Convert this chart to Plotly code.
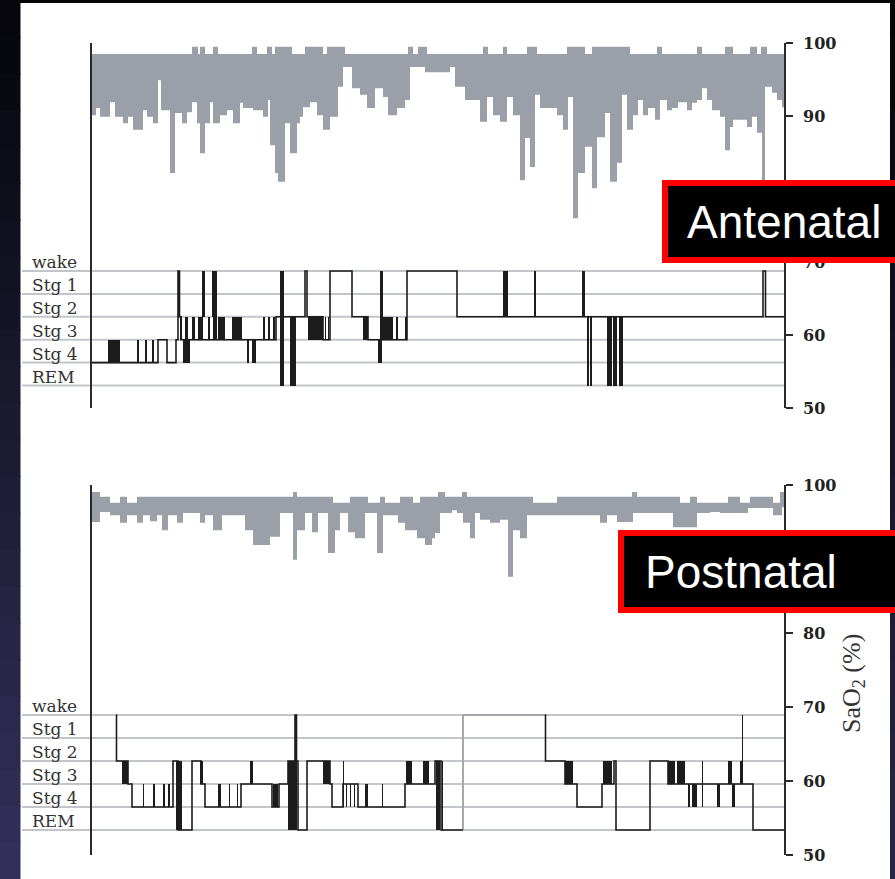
import plotly.graph_objects as go

W, H = 895, 879

# ---------------- data ----------------
stages = ["wake", "Stg 1", "Stg 2", "Stg 3", "Stg 4", "REM"]
stage_levels = [0, 1, 2, 3, 4, 5]
# tick labels visible in the slide (the others sit behind the label boxes)
top_ticks = [50, 60, 70, 90, 100]
bot_ticks = [50, 60, 70, 80, 100]
panel_labels = ["Antenatal", "Postnatal"]
sao2_title = "SaO<sub>2</sub> (%)"

# time in 30-s epochs from start of recording
# --- Antenatal SaO2 (upper and lower envelope, step data) ---
top_up_t = [0, 100, 106, 108, 113, 121, 126, 160, 165, 175, 180, 183, 200, 213, 231, 235, 253, 316, 321, 326, 335,
            391, 396, 411, 415, 435, 445, 475, 493, 500, 538, 565, 570, 605, 610, 633, 641, 658, 665, 669, 675, 695]
top_up_v = [98.5, 99.5, 98.5, 99.5, 98.5, 99.5, 98.5, 99.5, 98.5, 99.5, 98.5, 99.5, 98.5, 99.5, 98.5, 99.5, 98.5,
            99.5, 98.5, 99.5, 98.5, 99.5, 98.5, 99.5, 98.5, 99.5, 98.5, 99.5, 98.5, 99.5, 98.5, 99.5, 98.5, 99.5,
            98.5, 99.5, 98.5, 99.5, 98.5, 99.5, 98.5, 98.5]
top_low_t = [0, 4, 8, 18, 23, 31, 36, 41, 51, 55, 61, 66, 69, 78, 83, 90, 95, 100, 105, 108, 113, 118, 121, 128, 135,
             141, 148, 151, 161, 171, 176, 178, 183, 186, 193, 198, 205, 208, 211, 218, 225, 231, 238, 246, 251, 260,
             268, 275, 283, 291, 296, 305, 313, 318, 333, 358, 363, 373, 388, 395, 401, 408, 415, 421, 428, 433, 438,
             443, 448, 465, 471, 476, 481, 486, 493, 500, 505, 513, 518, 525, 530, 535, 541, 546, 551, 556, 563, 568,
             575, 580, 586, 595, 600, 605, 610, 615, 620, 628, 633, 638, 641, 655, 660, 665, 670, 673, 680, 685, 690,
             695]
top_low_v = [90.1, 91.1, 89.9, 91.9, 89.9, 89.0, 89.9, 88.1, 90.8, 89.9, 89.0, 94.9, 90.8, 82.2, 90.4, 89.0, 90.5,
             91.9, 89.0, 84.9, 89.0, 91.9, 89.0, 90.1, 90.8, 89.0, 91.8, 91.1, 90.8, 89.9, 92.2, 86.0, 82.2, 81.0,
             89.0, 84.9, 89.0, 89.9, 91.2, 91.9, 90.1, 88.1, 89.9, 94.0, 96.7, 93.8, 92.9, 91.1, 93.8, 92.6, 90.1,
             91.1, 92.2, 96.7, 96.0, 96.7, 94.0, 92.2, 89.2, 92.6, 90.1, 89.2, 92.6, 90.1, 81.2, 87.0, 83.0, 92.9,
             91.1, 90.1, 88.1, 92.6, 76.0, 82.2, 85.8, 80.1, 87.1, 90.4, 81.0, 83.6, 92.9, 88.1, 90.1, 92.2, 90.1,
             91.1, 89.5, 92.2, 90.8, 91.1, 91.9, 90.8, 91.8, 92.2, 93.8, 92.2, 90.8, 89.9, 85.3, 88.5, 89.5, 88.5,
             89.9, 87.7, 81.2, 94.0, 93.2, 92.2, 91.2, 91.2]

# --- Antenatal hypnogram (0 = wake ... 5 = REM) ---
top_hyp_t = [0, 66, 75, 84, 86, 87.5, 89, 184, 213, 215, 231, 238, 260, 276, 315, 365, 671, 673.5, 692]
top_hyp_s = [4, 3, 4, 3, 0, 2, 3, 2, 0, 2, 3, 0, 2, 3, 0, 2, 0, 2, 2]
# rapid stage alternations (dense black blocks)
top_blk_t0 = [16, 45, 53, 60, 88, 91, 93, 100, 106, 110, 116, 120, 121, 126, 140, 155, 160, 171, 176, 181,
              188, 198, 216, 233, 236, 271, 286, 288, 291, 304, 313, 411, 442.5, 490, 495, 498, 515, 521, 527]
top_blk_t1 = [28, 47, 55, 62, 90, 98, 96, 103, 111, 113, 118, 125, 125, 133, 150, 157, 164, 173, 178, 183,
              192, 204, 231, 234, 237, 276, 290, 291, 301, 306, 315, 416, 444, 493, 496.5, 499.5, 520, 525, 531]
top_blk_hi = [3, 3, 3, 3, 2, 3, 2, 2, 2, 0, 2, 0, 2, 2, 2, 3, 3, 2, 2, 2,
              0, 2, 2, 2, 2, 2, 3, 0, 2, 2, 2, 0, 0, 0, 2, 2, 2, 2, 2]
top_blk_lo = [4, 4, 4, 4, 3, 4, 3, 3, 3, 2, 3, 2, 3, 3, 3, 4, 4, 3, 3, 3,
              5, 5, 3, 3, 3, 3, 4, 3, 3, 3, 3, 2, 2, 2, 5, 5, 5, 5, 5]

# --- Postnatal SaO2 ---
bot_up_t = [0, 8, 18, 28, 35, 45, 201, 205, 241, 258, 276, 288, 293, 308, 321, 328, 346, 353, 370, 375, 441, 465,
            540, 545, 588, 598, 605, 636, 648, 658, 681, 688, 695]
bot_up_v = [99.05, 98.4, 97.6, 98.4, 97.6, 98.4, 99.05, 98.4, 97.6, 98.4, 97.6, 98.4, 97.6, 98.4, 97.6, 98.4,
            99.05, 98.4, 99.05, 98.4, 97.6, 98.4, 99.05, 98.4, 97.6, 98.4, 97.6, 98.4, 97.6, 98.4, 97.6, 99.05, 99.05]
bot_low_t = [0, 8, 18, 28, 35, 45, 51, 58, 65, 70, 76, 85, 91, 108, 113, 121, 130, 153, 161, 178, 188, 201, 205,
             213, 220, 226, 236, 243, 248, 256, 263, 273, 285, 291, 306, 313, 325, 333, 340, 343, 348, 360, 365, 371,
             378, 383, 388, 398, 408, 416, 421, 428, 435, 508, 515, 525, 541, 581, 605, 618, 628, 656, 681, 690, 695]
bot_low_v = [95.0, 96.35, 95.9, 94.9, 95.9, 94.9, 95.9, 95.1, 95.9, 93.9, 95.9, 94.9, 96.2, 94.9, 95.9, 93.9, 95.9,
             93.9, 91.9, 93.0, 96.2, 89.9, 93.9, 96.2, 93.6, 96.2, 90.8, 93.9, 96.2, 93.6, 92.8, 96.2, 90.8, 95.9,
             94.9, 93.9, 92.8, 91.9, 92.8, 93.5, 96.2, 96.6, 96.2, 94.9, 92.8, 96.2, 95.3, 94.9, 95.3, 87.6, 93.9,
             92.8, 95.9, 94.9, 95.9, 95.0, 96.2, 94.3, 96.2, 96.35, 96.2, 96.9, 95.9, 97.0, 97.0]

# --- Postnatal hypnogram (two scored parts, with an unscored/artifact gap) ---
bot_hyp1_t = [24, 24.5, 36, 40, 81, 86, 100, 109, 113, 149, 180, 187, 196, 203, 204.5, 206, 215, 238, 240, 251,
              266, 313, 343, 349, 371]
bot_hyp1_s = [0, 2, 3, 4, 2, 5, 2, 3, 4, 3, 4, 3, 2, 0, 2, 5, 2, 3, 4, 3,
              4, 3, 2, 5, 5]
bot_gap_t = [371, 371, 453]
bot_gap_s = [5, 0, 0]
bot_hyp2_t = [453, 453.5, 473, 485, 510, 522, 524, 558, 576, 661, 692]
bot_hyp2_s = [0, 2, 3, 4, 3, 2, 5, 2, 3, 5, 5]
bot_blk_t0 = [30, 51, 61.5, 71.5, 76.5, 84, 108, 126, 137, 145, 158, 181, 196, 231, 251, 254, 258, 262, 273, 290,
              314, 331, 344, 350, 473, 511, 576, 585, 596, 600, 610, 625, 636, 640, 648, 650]
bot_blk_t1 = [36, 52, 63, 73, 78, 90, 111, 129, 138, 146, 161, 186, 205, 238, 252, 255, 259, 263, 276, 291,
              320, 337, 348, 351, 481, 520, 583, 593, 598, 605, 611, 628, 640, 643, 651, 651]
bot_blk_hi = [2, 3, 3, 3, 3, 2, 2, 3, 3, 3, 2, 3, 2, 2, 2, 3, 3, 3, 3, 3,
              2, 2, 2, 2, 2, 2, 2, 2, 3, 3, 2, 3, 2, 3, 2, 0]
bot_blk_lo = [3, 4, 4, 4, 4, 5, 3, 4, 4, 4, 3, 4, 5, 3, 4, 4, 4, 4, 4, 4,
              3, 3, 5, 5, 3, 3, 3, 3, 4, 4, 4, 4, 3, 4, 3, 2]

# ---------------- layout helpers ----------------
def fx(p):
    return p / W


def fy(p):
    return 1 - p / H


X_DOM = [fx(92), fx(784)]
TOP_DOM = [fy(408), fy(43)]
BOT_DOM = [fy(855), fy(485)]
top_hyp_range = [(408 - 271) / 22.9, (43 - 271) / 22.9]
bot_hyp_range = [(855 - 715) / 23.0, (485 - 715) / 23.0]

GRAY = "#9ba0a8"
INK = "#1c1c1c"
AXC = "#2a2a2a"

fig = go.Figure()


def add_sao2(xa, ya, up_t, up_v, lo_t, lo_v):
    fig.add_trace(go.Scatter(x=up_t, y=up_v, mode="lines", line=dict(width=0, shape="hv"),
                             xaxis=xa, yaxis=ya, hoverinfo="skip", showlegend=False))
    fig.add_trace(go.Scatter(x=lo_t, y=lo_v, mode="lines", line=dict(width=0, shape="hv"),
                             fill="tonexty", fillcolor=GRAY,
                             xaxis=xa, yaxis=ya, hoverinfo="skip", showlegend=False))


def add_blocks(xa, yh, b0, b1, bhi, blo):
    fig.add_trace(go.Bar(x=[(a + b) / 2 for a, b in zip(b0, b1)],
                         y=[l - h for h, l in zip(bhi, blo)],
                         base=bhi,
                         width=[b - a for a, b in zip(b0, b1)],
                         marker=dict(color=INK, line=dict(width=0)),
                         xaxis=xa, yaxis=yh, hoverinfo="skip", showlegend=False))


def add_steps(xa, yh, t, s, color=INK, width=1.6):
    fig.add_trace(go.Scatter(x=t, y=s, mode="lines",
                             line=dict(color=color, width=width, shape="hv"),
                             xaxis=xa, yaxis=yh, hoverinfo="skip", showlegend=False))


add_sao2("x", "y", top_up_t, top_up_v, top_low_t, top_low_v)
add_blocks("x", "y2", top_blk_t0, top_blk_t1, top_blk_hi, top_blk_lo)
add_steps("x", "y2", top_hyp_t, top_hyp_s)

add_sao2("x2", "y3", bot_up_t, bot_up_v, bot_low_t, bot_low_v)
add_blocks("x2", "y4", bot_blk_t0, bot_blk_t1, bot_blk_hi, bot_blk_lo)
add_steps("x2", "y4", bot_gap_t, bot_gap_s, color="#a4a8ae", width=2)
add_steps("x2", "y4", bot_hyp1_t, bot_hyp1_s)
add_steps("x2", "y4", bot_hyp2_t, bot_hyp2_s)

sao2_axis = dict(range=[50, 100], side="right", showline=True, linecolor=AXC, linewidth=1.6,
                 ticks="outside", ticklen=7, tickwidth=1.5, tickcolor=AXC,
                 ticklabelstandoff=7, automargin=False,
                 tickfont=dict(family="DejaVu Serif", size=16, color="#222", weight="bold"),
                 showgrid=False, zeroline=False, fixedrange=True)
hyp_axis = dict(side="left", showline=True, linecolor=AXC, linewidth=1.8, ticks="",
                showticklabels=False, showgrid=False, zeroline=False, fixedrange=True,
                automargin=False)

fig.update_layout(
    width=W, height=H, autosize=False,
    margin=dict(l=0, r=0, t=0, b=0, pad=0, autoexpand=False),
    paper_bgcolor="white", plot_bgcolor="rgba(0,0,0,0)",
    showlegend=False, barmode="overlay", bargap=0,
    xaxis=dict(domain=X_DOM, range=[0, 692], visible=False, anchor="y", fixedrange=True, automargin=False),
    xaxis2=dict(domain=X_DOM, range=[0, 692], visible=False, anchor="y3", fixedrange=True, automargin=False),
    yaxis=dict(domain=TOP_DOM, anchor="x", tickvals=top_ticks, **sao2_axis),
    yaxis2=dict(overlaying="y", anchor="x", range=top_hyp_range, **hyp_axis),
    yaxis3=dict(domain=BOT_DOM, anchor="x2", tickvals=bot_ticks, **sao2_axis),
    yaxis4=dict(overlaying="y3", anchor="x2", range=bot_hyp_range, **hyp_axis),
)

shapes = []
# stage grid lines
for yref in ("y2", "y4"):
    for s in stage_levels:
        shapes.append(dict(type="line", xref="paper", yref=yref, x0=fx(22), x1=fx(784), y0=s, y1=s,
                           line=dict(color="#c2c6cb", width=2), layer="below"))

# dark slide frame: top bar, left and right gradient bands
shapes.append(dict(type="rect", xref="paper", yref="paper", x0=0, x1=1, y0=fy(3), y1=1,
                   fillcolor="#050507", line=dict(width=0), layer="above"))
N = 24
for i in range(N):
    f = i / (N - 1)
    c = "rgb(%d,%d,%d)" % (6 + 44 * f, 6 + 42 * f, 12 + 78 * f)
    shapes.append(dict(type="rect", xref="paper", yref="paper", x0=0, x1=fx(20.5),
                       y0=max(0, fy((i + 1) * H / N + 1)), y1=fy(i * H / N), fillcolor=c, line=dict(width=0),
                       layer="above"))
    c2 = "rgb(%d,%d,%d)" % (4 + 36 * f, 4 + 34 * f, 8 + 62 * f)
    shapes.append(dict(type="rect", xref="paper", yref="paper", x0=fx(890), x1=1,
                       y0=max(0, fy((i + 1) * H / N + 1)), y1=fy(i * H / N), fillcolor=c2, line=dict(width=0),
                       layer="above"))

# label boxes
for (x0, y0, y1) in [(665, 183, 260), (621, 533, 610)]:
    shapes.append(dict(type="rect", xref="paper", yref="paper", x0=fx(x0), x1=fx(905), y0=fy(y1), y1=fy(y0),
                       fillcolor="black", line=dict(color="#ff0000", width=6), layer="above"))

annotations = []
for yref in ("y2", "y4"):
    for name, s in zip(stages, stage_levels):
        annotations.append(dict(text=name, x=fx(30), xref="paper", xanchor="left", y=s, yref=yref,
                                yanchor="bottom", yshift=-3, showarrow=False,
                                font=dict(family="DejaVu Serif", size=17, color="#333")))

annotations.append(dict(text=panel_labels[0], x=fx(784), y=fy(222), xref="paper", yref="paper",
                        xanchor="center", yanchor="middle", showarrow=False,
                        font=dict(family="Liberation Sans", size=46, color="white")))
annotations.append(dict(text=panel_labels[1], x=fx(741), y=fy(572), xref="paper", yref="paper",
                        xanchor="center", yanchor="middle", showarrow=False,
                        font=dict(family="Liberation Sans", size=46, color="white")))
annotations.append(dict(text=sao2_title, x=fx(853), y=fy(684), xref="paper", yref="paper",
                        xanchor="center", yanchor="middle", textangle=-90, showarrow=False,
                        font=dict(family="Liberation Serif", size=26, color="#333")))

fig.update_layout(shapes=shapes, annotations=annotations)

fig.write_html("out.html")
